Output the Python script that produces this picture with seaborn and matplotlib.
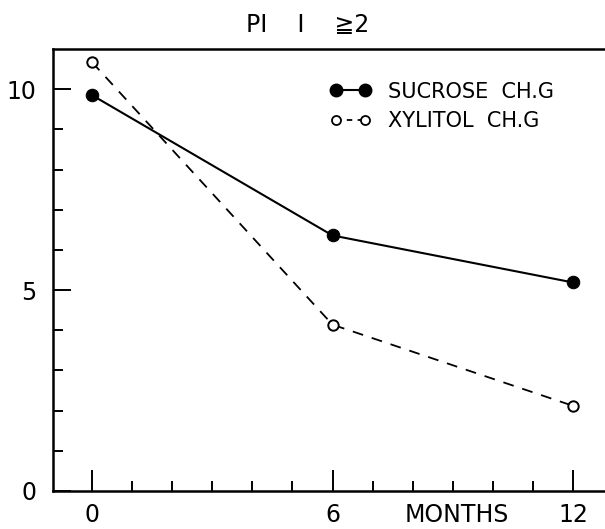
import matplotlib
matplotlib.use("Agg")
import matplotlib.pyplot as plt
import matplotlib.transforms as mtransforms
import seaborn as sns
import pandas as pd
from matplotlib.ticker import FixedLocator
from matplotlib.lines import Line2D

months = [0, 6, 12]
sucrose = [9.85, 6.36, 5.19]
xylitol = [10.67, 4.14, 2.12]
series_names = ["SUCROSE  CH.G", "XYLITOL  CH.G"]
x_ticks = [0, 6, 12]
y_ticks = [0, 5, 10]
title = "PI    I    ≧2"
x_label = "MONTHS"

sns.set_theme(style="white")
FONT = ["Liberation Sans Narrow", "DejaVu Sans"]
plt.rcParams["font.family"] = FONT
plt.rcParams["text.color"] = "black"
plt.rcParams["xtick.color"] = "black"
plt.rcParams["ytick.color"] = "black"

fig = plt.figure(figsize=(6.05, 5.29), dpi=100)
ax = fig.add_axes([53 / 605, 1 - 491 / 529, 552 / 605, (491 - 49) / 529])

df = pd.DataFrame({"month": months * 2,
                   "value": sucrose + xylitol,
                   "group": [series_names[0]] * 3 + [series_names[1]] * 3})

sns.lineplot(data=df[df.group == series_names[0]], x="month", y="value",
             ax=ax, color="black", lw=1.5, marker="o", markersize=9,
             markerfacecolor="black", markeredgecolor="black", legend=False)
sns.lineplot(data=df[df.group == series_names[1]], x="month", y="value",
             ax=ax, color="black", lw=1.3, linestyle=(0, (6, 5)), marker="o",
             markersize=7.5, markerfacecolor="white", markeredgecolor="black",
             markeredgewidth=1.4, legend=False)

ax.set_xlim(-0.975, 12.8)
ax.set_ylim(0, 11.0)
ax.xaxis.set_major_locator(FixedLocator(x_ticks))
ax.xaxis.set_minor_locator(FixedLocator([m for m in range(1, 12) if m not in x_ticks]))
ax.yaxis.set_major_locator(FixedLocator(y_ticks))
ax.yaxis.set_minor_locator(FixedLocator([v for v in range(1, 10) if v not in y_ticks]))
ax.set_xticklabels([str(t) for t in x_ticks])
ax.set_yticklabels([str(t) for t in y_ticks])
ax.set_xlabel("")
ax.set_ylabel("")

for s in ["left", "bottom", "top"]:
    ax.spines[s].set_visible(True)
    ax.spines[s].set_linewidth(1.8)
    ax.spines[s].set_color("black")
ax.spines["right"].set_visible(False)

ax.tick_params(axis="x", which="major", direction="in", length=15, width=1.4,
               pad=9, labelsize=17, colors="black", bottom=True)
ax.tick_params(axis="x", which="minor", direction="in", length=7.5, width=1.4,
               bottom=True)
ax.tick_params(axis="y", which="major", direction="in", length=13, width=1.4,
               pad=12, labelsize=17, colors="black", left=True)
ax.tick_params(axis="y", which="minor", direction="in", length=7.5, width=1.4,
               left=True)

trans = mtransforms.blended_transform_factory(ax.transData, ax.transAxes)
trans = trans + mtransforms.ScaledTranslation(0, -9 / 72, fig.dpi_scale_trans)
ax.text(9.1, 0, x_label, ha="center", va="top", fontsize=17,
        transform=trans, clip_on=False, color="black")
fig.text(308 / 605, 1 - 25 / 529, title, ha="center", va="center", fontsize=17,
         family=FONT, color="black")

handles = [
    Line2D([], [], color="black", lw=1.5, marker="o", markersize=9,
           markerfacecolor="black"),
    Line2D([], [], color="black", lw=1.3, linestyle=(0, (3, 3)), marker="o",
           markersize=6.5, markerfacecolor="white", markeredgewidth=1.3),
]
leg = ax.legend(handles, series_names, loc="upper left",
                bbox_to_anchor=(258 / 552, 1 - 14 / 442), frameon=False,
                numpoints=2, handlelength=2.0, handletextpad=0.8,
                labelspacing=0.45, fontsize=15)
for t in leg.get_texts():
    t.set_color("black")

fig.savefig("out.png", dpi=100)
